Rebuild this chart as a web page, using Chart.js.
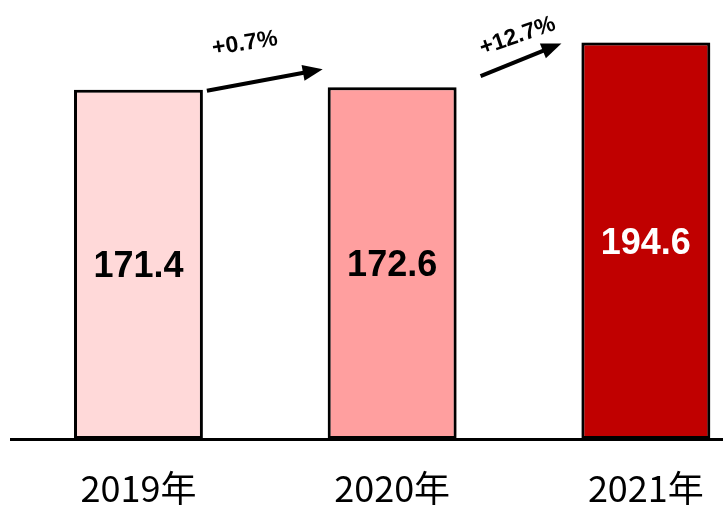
<!DOCTYPE html>
<html>
<head>
<meta charset="utf-8">
<script src="https://cdn.jsdelivr.net/npm/chart.js@4/dist/chart.umd.min.js"></script>
<style>
html,body{margin:0;padding:0;background:#fff;overflow:hidden;width:723px;height:511px;}
canvas{display:block;}
</style>
</head>
<body>
<canvas id="c" width="780" height="511"></canvas>
<script>
const categories = ['2019年', '2020年', '2021年'];
const values = [171.4, 172.6, 194.6];
const barColors = ['#FFD9D9', '#FF9F9F', '#C00000'];
const valueLabelColors = ['#000000', '#000000', '#FFFFFF'];
const growthLabels = ['+0.7%', '+12.7%'];

const barShadow = {
  id: 'barShadow',
  beforeDatasetDraw(chart) {
    const ctx = chart.ctx;
    ctx.save();
    ctx.shadowColor = 'rgba(0,0,0,0.35)';
    ctx.shadowBlur = 8;
    ctx.shadowOffsetX = 1;
    ctx.shadowOffsetY = 1;
  },
  afterDatasetDraw(chart) {
    chart.ctx.restore();
  }
};

function drawArrow(ctx, x1, y1, x2, y2) {
  const ang = Math.atan2(y2 - y1, x2 - x1);
  const headLen = 20, headW = 8;
  const bx = x2 - headLen * Math.cos(ang), by = y2 - headLen * Math.sin(ang);
  ctx.save();
  ctx.strokeStyle = '#000';
  ctx.fillStyle = '#000';
  ctx.lineWidth = 4;
  ctx.beginPath();
  ctx.moveTo(x1, y1);
  ctx.lineTo(bx + 2 * Math.cos(ang), by + 2 * Math.sin(ang));
  ctx.stroke();
  ctx.beginPath();
  ctx.moveTo(x2, y2);
  ctx.lineTo(bx + headW * Math.sin(ang), by - headW * Math.cos(ang));
  ctx.lineTo(bx - headW * Math.sin(ang), by + headW * Math.cos(ang));
  ctx.closePath();
  ctx.fill();
  ctx.restore();
}

function drawRotText(ctx, text, x, y, deg) {
  ctx.save();
  ctx.translate(x, y);
  ctx.rotate(deg * Math.PI / 180);
  ctx.font = 'bold 23px "Liberation Sans", Arial, sans-serif';
  ctx.fillStyle = '#000';
  ctx.textAlign = 'center';
  ctx.textBaseline = 'middle';
  ctx.fillText(text, 0, 0);
  ctx.restore();
}

const overlay = {
  id: 'overlay',
  afterDatasetsDraw(chart) {
    const ctx = chart.ctx;
    const bars = chart.getDatasetMeta(0).data;
    bars.forEach((b, i) => {
      ctx.save();
      ctx.font = 'bold 36px "Liberation Sans", Arial, sans-serif';
      ctx.fillStyle = valueLabelColors[i];
      ctx.textAlign = 'center';
      ctx.textBaseline = 'middle';
      ctx.fillText(values[i].toFixed(1), b.x, (b.y + b.base) / 2 + 3);
      ctx.restore();
    });
    const r0 = bars[0].x + bars[0].width / 2;
    const l1 = bars[1].x - bars[1].width / 2;
    const r1 = bars[1].x + bars[1].width / 2;
    const l2 = bars[2].x - bars[2].width / 2;
    drawArrow(ctx, r0 + 4, bars[0].y + 1, l1 - 5, bars[1].y - 18);
    drawArrow(ctx, r1 + 24, bars[1].y - 11, l2 - 20, bars[2].y + 1);
    drawRotText(ctx, growthLabels[0], r0 + 42, bars[0].y - 46, -9);
    drawRotText(ctx, growthLabels[1], r1 + 61, bars[1].y - 51, -19);
  }
};

new Chart(document.getElementById('c'), {
  type: 'bar',
  data: {
    labels: categories,
    datasets: [{
      data: values,
      backgroundColor: barColors,
      borderColor: '#000',
      borderWidth: 3,
      borderSkipped: false,
      categoryPercentage: 1,
      barPercentage: 0.508
    }]
  },
  options: {
    responsive: false,
    animation: false,
    events: [],
    layout: { padding: { left: 11.6, right: 7.3, top: 11, bottom: 0 } },
    plugins: { legend: { display: false }, tooltip: { enabled: false } },
    scales: {
      x: {
        grid: { display: false, drawTicks: false },
        border: { display: true, color: '#000', width: 3 },
        ticks: {
          color: '#000',
          padding: 28,
          font: { family: '"Noto Sans CJK SC", sans-serif', size: 36 }
        },
        afterFit(scale) { scale.height = 72; }
      },
      y: {
        display: false,
        min: 0,
        max: 210
      }
    }
  },
  plugins: [barShadow, overlay]
});
</script>
</body>
</html>
